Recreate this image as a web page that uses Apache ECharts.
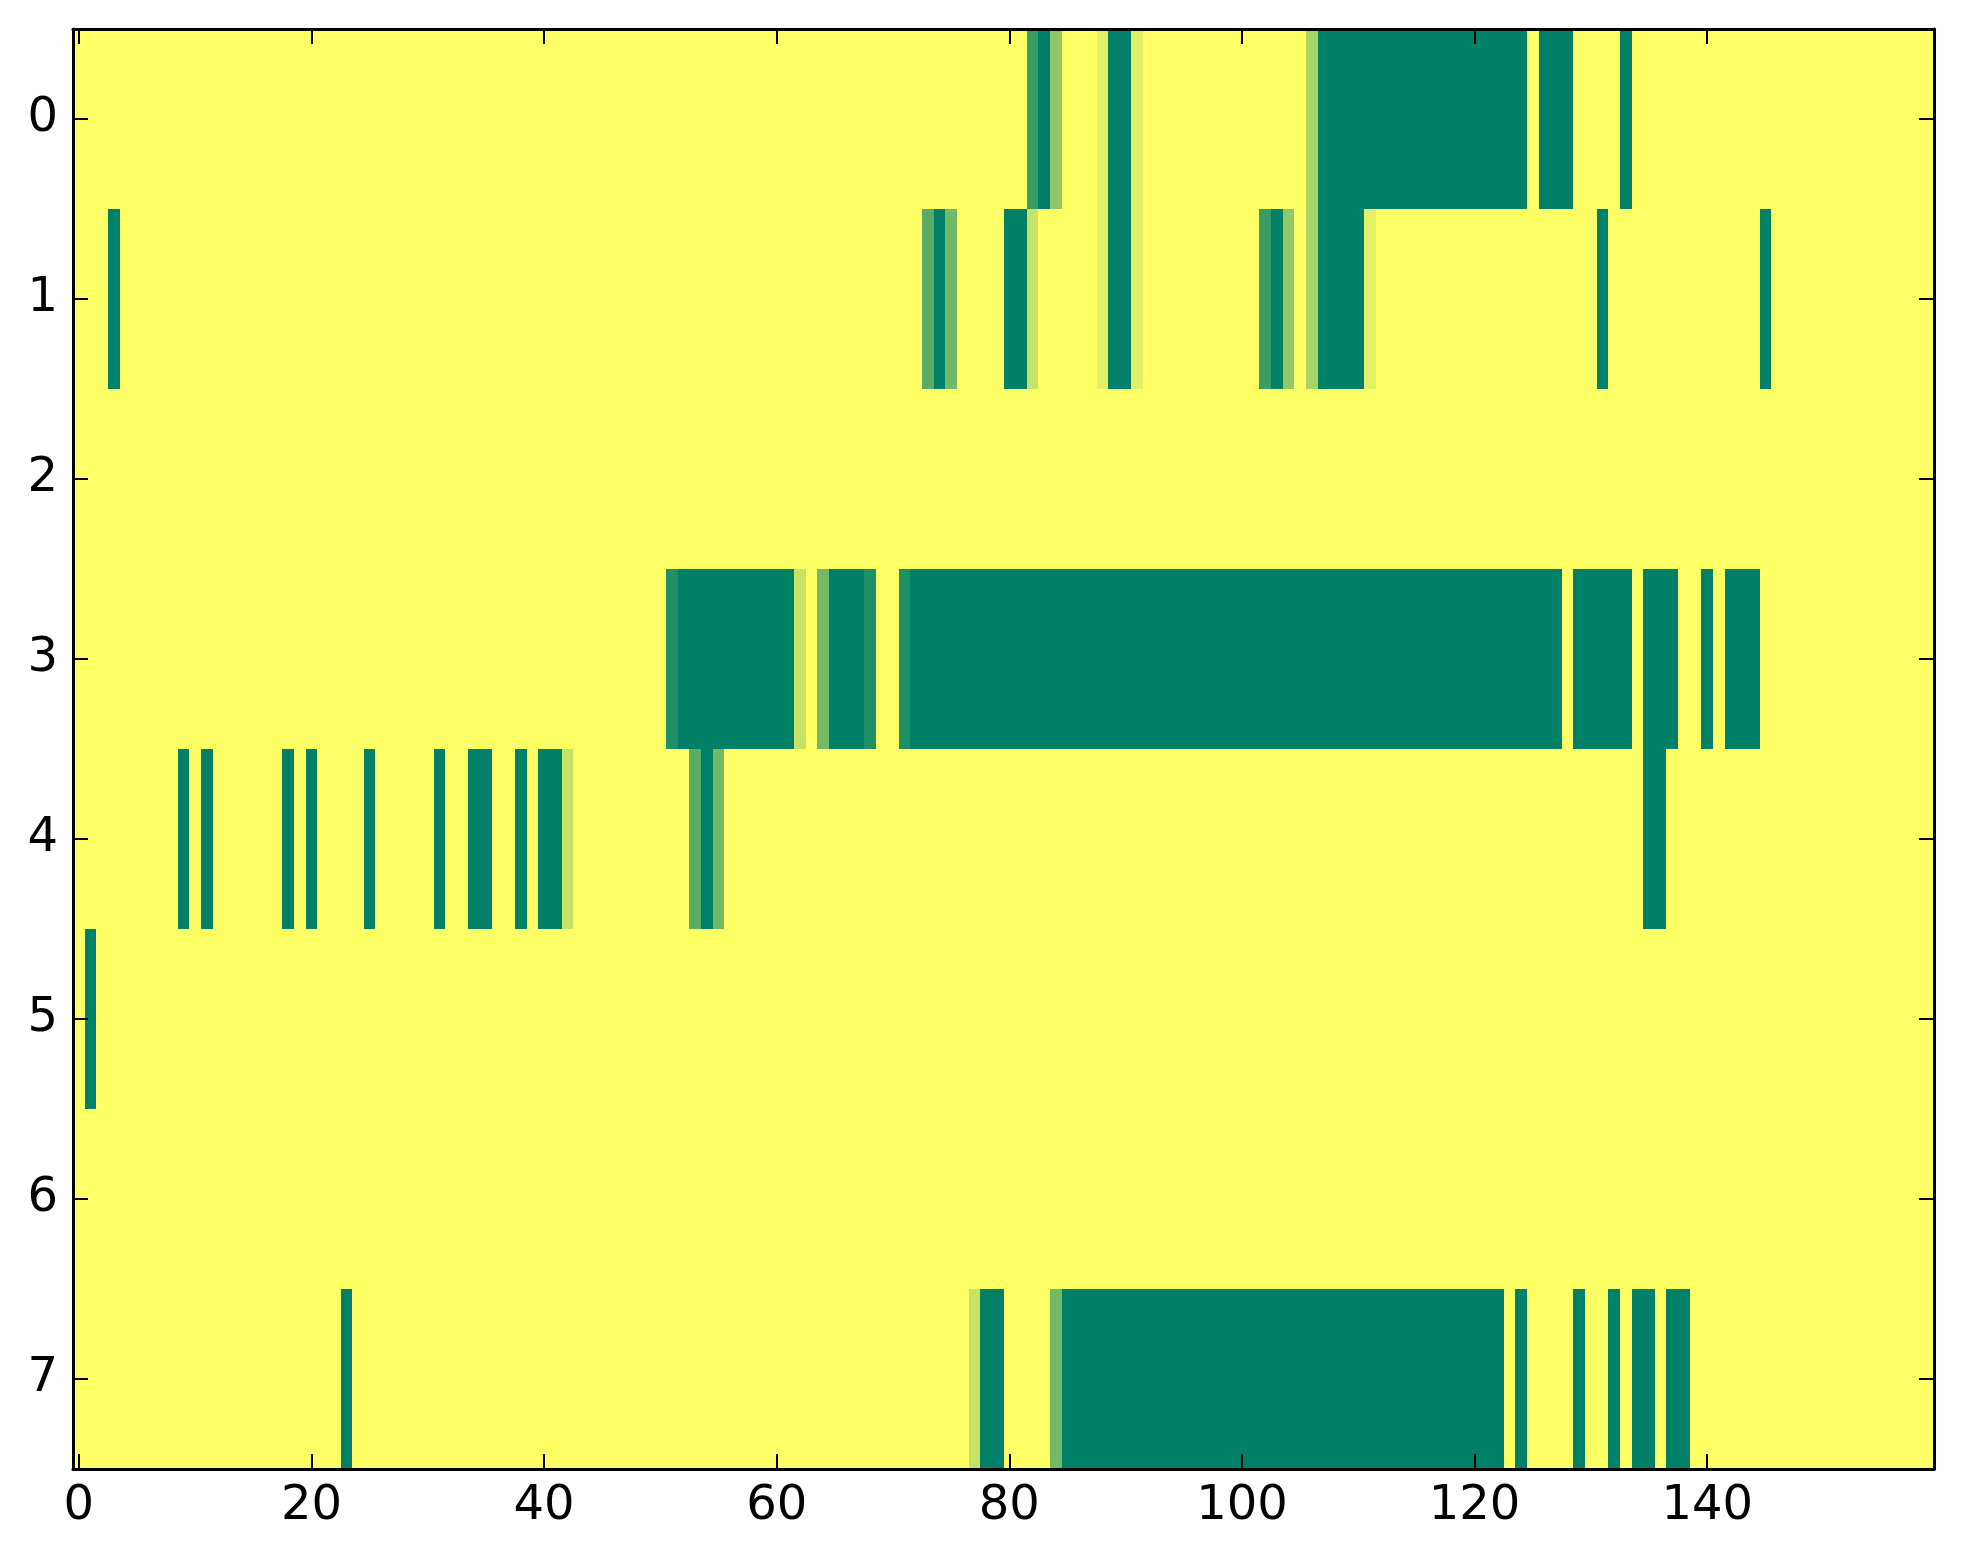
<!DOCTYPE html>
<html><head><meta charset="utf-8">
<script src="https://cdn.jsdelivr.net/npm/echarts@6.0.0/dist/echarts.min.js"></script>
<style>html,body{margin:0;padding:0;background:#fff}#c{width:1963px;height:1564px}</style>
</head><body><div id="c"></div>
<script>
// number of columns (x categories 0..159)
const nCols = 160;
const rowLabels = ['0','1','2','3','4','5','6','7'];
const xTickLabels = [0, 20, 40, 60, 80, 100, 120, 140];

// non-zero cells per row, as runs: [firstCol, lastCol, value]
const row0Runs = [[82,82,0.78],[83,83,1],[84,84,0.44],[88,88,0.11],[89,90,1],[91,91,0.11],
  [106,106,0.34],[107,124,1],[126,128,1],[133,133,1]];
const row1Runs = [[3,3,1],[73,73,0.65],[74,74,1],[75,75,0.55],[80,81,1],[82,82,0.22],
  [88,88,0.11],[89,90,1],[91,91,0.11],[102,102,0.78],[103,103,1],[104,104,0.44],
  [106,106,0.34],[107,110,1],[111,111,0.11],[131,131,1],[145,145,1]];
const row2Runs = [];
const row3Runs = [[51,51,0.88],[52,61,1],[62,62,0.22],[64,64,0.55],[65,67,1],[68,68,0.88],
  [71,71,0.88],[72,127,1],[129,133,1],[135,137,1],[140,140,1],[142,144,1]];
const row4Runs = [[9,9,1],[11,11,1],[18,18,1],[20,20,1],[25,25,1],[31,31,1],[34,35,1],
  [38,38,1],[40,41,1],[42,42,0.22],[53,53,0.65],[54,54,1],[55,55,0.55],[135,136,1]];
const row5Runs = [[1,1,1]];
const row6Runs = [];
const row7Runs = [[23,23,1],[77,77,0.22],[78,79,1],[84,84,0.55],[85,122,1],[124,124,1],
  [129,129,1],[132,132,1],[134,135,1],[137,138,1]];

const rowRuns = [row0Runs,row1Runs,row2Runs,row3Runs,row4Runs,row5Runs,row6Runs,row7Runs];
const xCategories = Array.from({length: nCols}, (_, i) => String(i));
const cells = [];
rowRuns.forEach((runs, r) => {
  const vals = new Array(nCols).fill(0);
  runs.forEach(([a, b, v]) => { for (let c = a; c <= b; c++) vals[c] = v; });
  vals.forEach((v, c) => cells.push([c, r, v]));
});

const font = 'DejaVu Sans';
const showX = (i, v) => xTickLabels.indexOf(Number(v)) >= 0;
const lineStyle = {color: '#000', width: 3};
const tickStyle = {show: true, inside: true, length: 15, lineStyle: {color: '#000', width: 2}};

const chart = echarts.init(document.getElementById('c'), null, {renderer: 'canvas'});
chart.setOption({
  animation: false,
  backgroundColor: '#fff',
  grid: {left: 73, top: 29, width: 1861, height: 1440, containLabel: false},
  xAxis: [
    {type: 'category', data: xCategories, position: 'bottom', zlevel: 1, z: 10,
     axisLine: {show: true, onZero: false, lineStyle},
     axisTick: Object.assign({alignWithLabel: true, interval: showX}, tickStyle),
     axisLabel: {show: true, interval: showX, margin: 14, color: '#000', fontSize: 48, fontFamily: font},
     splitLine: {show: false}},
    {type: 'category', data: xCategories, position: 'top', zlevel: 1, z: 10,
     axisLine: {show: true, onZero: false, lineStyle},
     axisTick: Object.assign({alignWithLabel: true, interval: showX}, tickStyle),
     axisLabel: {show: false}, splitLine: {show: false}}
  ],
  yAxis: [
    {type: 'category', data: rowLabels, inverse: true, position: 'left', zlevel: 1, z: 10,
     axisLine: {show: true, onZero: false, lineStyle},
     axisTick: Object.assign({alignWithLabel: true, interval: 0}, tickStyle),
     axisLabel: {show: true, interval: 0, margin: 15, color: '#000', fontSize: 48, fontFamily: font},
     splitLine: {show: false}},
    {type: 'category', data: rowLabels, inverse: true, position: 'right', zlevel: 1, z: 10,
     axisLine: {show: true, onZero: false, lineStyle},
     axisTick: Object.assign({alignWithLabel: true, interval: 0}, tickStyle),
     axisLabel: {show: false}, splitLine: {show: false}}
  ],
  visualMap: {type: 'continuous', show: false, min: 0, max: 1, dimension: 2,
    seriesIndex: 0, inRange: {color: ['#ffff66', '#008066']}},
  series: [{
    type: 'custom', xAxisIndex: 0, yAxisIndex: 0, data: cells,
    encode: {x: 0, y: 1},
    renderItem: function (params, api) {
      const c = api.coord([api.value(0), api.value(1)]);
      const s = api.size([1, 1]);
      const x0 = Math.round(c[0] - s[0] / 2), x1 = Math.round(c[0] + s[0] / 2);
      const y0 = Math.round(c[1] - s[1] / 2), y1 = Math.round(c[1] + s[1] / 2);
      return {type: 'rect', shape: {x: x0, y: y0, width: x1 - x0, height: y1 - y0},
        style: {fill: api.visual('color')}, silent: true};
    },
    emphasis: {disabled: true}, progressive: 0
  }]
});
</script></body></html>
